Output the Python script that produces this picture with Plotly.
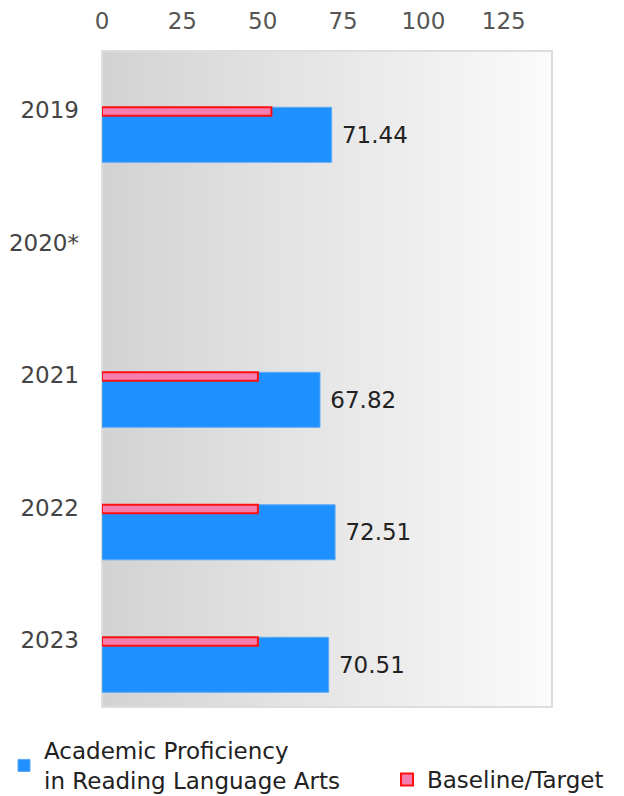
import plotly.graph_objects as go

years = ["2019", "2020*", "2021", "2022", "2023"]
proficiency = [71.44, None, 67.82, 72.51, 70.51]
target = [52.7, None, 48.5, 48.5, 48.5]
x_ticks = [0, 25, 50, 75, 100, 125]

W, H = 624, 796
OFF = 8  # page body margin
L = 102 - OFF
R = W - (552 - OFF)
T = 51 - OFF
B = H - (707 - OFF)
PW, PH = W - L - R, H - T - B


def px_x(fx):
    return (fx - L) / PW


def px_y(fy):
    return 1 - (fy - T) / PH


FS = 23

fig = go.Figure()

fig.add_trace(go.Bar(
    y=years, x=proficiency, orientation="h",
    name="Academic Proficiency<br>in Reading Language Arts",
    marker=dict(color="#1E90FF", line=dict(color="#5AAAF5", width=1)),
    offset=-0.02, width=0.415,
    texttemplate=" %{x:.2f}", textposition="outside",
    textfont=dict(size=FS, color="#222222", family="DejaVu Sans"),
    constraintext="none", cliponaxis=False,
    legend="legend", showlegend=True, hoverinfo="skip",
))
fig.add_trace(go.Bar(
    y=years, x=target, orientation="h",
    name="Baseline/Target",
    marker=dict(color="#F47FAE", line=dict(color="#FF1010", width=2)),
    offset=-0.02, width=0.063,
    legend="legend2", showlegend=True, hoverinfo="skip",
))

# gradient plot background
n = 90
shapes = []
for i in range(n):
    f = i / (n - 1)
    c = int(211 + (251 - 211) * f)
    shapes.append(dict(type="rect", xref="x domain", yref="y domain",
                       x0=i / n, x1=(i + 1) / n + 0.002, y0=0, y1=1,
                       fillcolor=f"rgb({c},{c},{c})", line=dict(width=0),
                       layer="below"))
shapes.append(dict(type="rect", xref="x domain", yref="y domain",
                   x0=0, x1=1, y0=0, y1=1, fillcolor="rgba(0,0,0,0)",
                   line=dict(color="#DDDDDD", width=2), layer="below"))

fig.update_layout(
    width=W, height=H,
    margin=dict(l=L, r=R, t=T, b=B, autoexpand=False),
    paper_bgcolor="white", plot_bgcolor="white",
    font=dict(family="DejaVu Sans", size=FS, color="#444444"),
    barmode="overlay",
    showlegend=True,
    shapes=shapes,
    xaxis=dict(side="top", range=[0, 140], tickvals=x_ticks,
               showgrid=False, zeroline=False, showline=False,
               ticks="", ticklabelstandoff=16,
               tickfont=dict(size=FS, color="#555555")),
    yaxis=dict(type="category", categoryorder="array", categoryarray=years,
               range=[4.506, -0.445], showgrid=False, zeroline=False,
               showline=False, ticks="", ticklabelstandoff=22,
               tickfont=dict(size=FS, color="#444444")),
    legend=dict(x=px_x(-4), y=px_y(721),
                xanchor="left", yanchor="top", orientation="v",
                font=dict(size=FS, color="#222222"), bgcolor="rgba(0,0,0,0)"),
    legend2=dict(x=px_x(379), y=px_y(750),
                 xanchor="left", yanchor="top", orientation="v",
                 font=dict(size=FS, color="#222222"), bgcolor="rgba(0,0,0,0)"),
)

fig.write_html("out.html")
